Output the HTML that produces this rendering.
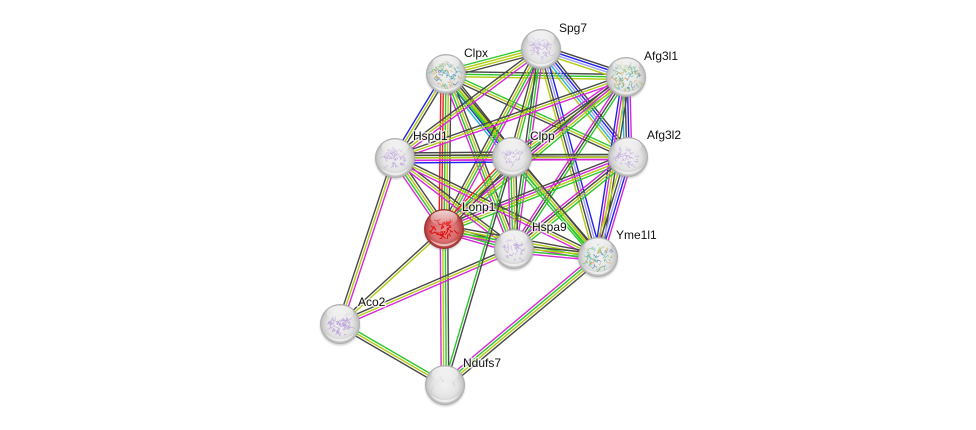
<!DOCTYPE html>
<html><head><meta charset="utf-8">
<style>
html,body{margin:0;padding:0;background:#fff;width:976px;height:430px;overflow:hidden}
svg{display:block}
text{font-family:"Liberation Sans",sans-serif;font-size:12px;fill:#111;paint-order:stroke;stroke:rgba(255,255,255,.7);stroke-width:3px;stroke-linejoin:round}
</style></head>
<body>
<svg id="s" xmlns="http://www.w3.org/2000/svg" width="976" height="430" viewBox="0 0 976 430">
<defs>
<radialGradient id="gb" cx="50%" cy="50%" r="52%"><stop offset="0" stop-color="#f2f2f2"/><stop offset=".6" stop-color="#e4e4e4"/><stop offset=".86" stop-color="#c8c8c8"/><stop offset="1" stop-color="#9a9a9a"/></radialGradient>
<radialGradient id="rb" cx="50%" cy="50%" r="52%"><stop offset="0" stop-color="#e88c8c"/><stop offset=".6" stop-color="#d87070"/><stop offset=".86" stop-color="#bb4444"/><stop offset="1" stop-color="#862020"/></radialGradient>
<linearGradient id="hl" x1="0" y1="0" x2="0" y2="1"><stop offset="0" stop-color="#fff" stop-opacity=".8"/><stop offset="1" stop-color="#fff" stop-opacity=".05"/></linearGradient>
<radialGradient id="sh" cx="50%" cy="50%" r="50%"><stop offset=".8" stop-color="#777" stop-opacity=".55"/><stop offset="1" stop-color="#999" stop-opacity="0"/></radialGradient>
</defs>
<g id="edges" fill="none"></g>
<g id="nodes"></g>
<text x="559" y="32">Spg7</text>
<text x="464" y="57">Clpx</text>
<text x="644" y="60">Afg3l1</text>
<text x="413" y="140">Hspd1</text>
<text x="530" y="140">Clpp</text>
<text x="647" y="139">Afg3l2</text>
<text x="462" y="211">Lonp1</text>
<text x="532" y="231">Hspa9</text>
<text x="616" y="239">Yme1l1</text>
<text x="358" y="306">Aco2</text>
<text x="463" y="367">Ndufs7</text>
</svg>
<script>
var N={S:[541,49],X:[446,74],A:[626,77],H:[395,158],C:[512,157],B:[628,157],L:[444,229],P:[514,249],Y:[598,257],O:[340,324],D:[445,385]};
var K={k:'#484848',y:'#b4cc14',g:'#2cc82c',G:'#108c10',m:'#d828d8',b:'#2222ee',l:'#a0a0ff',c:'#28b4d8',r:'#f02020',p:'#802080'};
var E='XS:gyyk XA:kgy XH:kyb XC:kygbc XB:gyk XL:kygrr XP:kygm XY:kyg SA:kbly SB:kblcy SH:myk SC:gyk SL:mgyk SP:mgk SY:blky AB:mbkc AH:myk AC:gykm AL:gymk AP:gkm AY:kymb HC:kyGmb CB:Gkp HB:kym BL:gymk BP:gykm BY:mblky HL:kygm HP:kym HY:kym HO:myk CL:kygr CP:kygm CY:kygg LP:kygm LY:kygm LO:yk LD:kgym PY:kygm PO:myk CD:kg YD:kygm OD:gyk'.split(' ');
var ns='http://www.w3.org/2000/svg',eg=document.getElementById('edges'),ng=document.getElementById('nodes');
function el(t,a,p){var e=document.createElementNS(ns,t);for(var k in a)e.setAttribute(k,a[k]);p.appendChild(e);return e}
E.forEach(function(e){var a=N[e[0]],b=N[e[1]],c=e.slice(3),dx=b[0]-a[0],dy=b[1]-a[1],l=Math.hypot(dx,dy),nx=-dy/l,ny=dx/l,sp=2.5;
for(var i=0;i<c.length;i++){var o=(i-(c.length-1)/2)*sp;
el('line',{x1:a[0]+nx*o,y1:a[1]+ny*o,x2:b[0]+nx*o,y2:b[1]+ny*o,stroke:K[c[i]],'stroke-width':1.4},eg)}});
var seed=7;function R(){seed=(seed*16807)%2147483647;return seed/2147483647}
var M=['#e8a060','#70b070','#5080c8','#60b8c0','#a0c060','#70b070'];
var Z={S:[['#c4aee0'],10,130],X:[M,13,220],A:[M,14,240],H:[['#c0a8dc'],11,130],C:[['#c4b0e0'],9,80],B:[['#c0a8dc'],11,100],L:[['#e01010'],11,90],P:[['#c0a8dc'],12,110],Y:[M,13,190],O:[['#b89cd8'],11,170],D:[['#d0bce0'],13,8]};
for(var k in N){var p=N[k],x=p[0],y=p[1],z=Z[k],red=k=='L';
el('circle',{cx:x,cy:y+1.5,r:21.5,fill:'url(#sh)'},ng);
el('circle',{cx:x,cy:y,r:20,fill:red?'url(#rb)':'url(#gb)'},ng);
for(var j=0;j<z[2];j+=3){var a=R()*6.28,r=Math.sqrt(R())*z[1],px=x+Math.cos(a)*r,py=y+Math.sin(a)*r,d='M'+px.toFixed(1)+' '+py.toFixed(1);
for(var q=0;q<3;q++){px+=(R()-.5)*5;py+=(R()-.5)*5;d+='L'+px.toFixed(1)+' '+py.toFixed(1)}
el('path',{d:d,fill:'none',stroke:z[0][Math.floor(R()*z[0].length)],'stroke-width':red?1:.65,opacity:red?1:.8},ng)}
el('ellipse',{cx:x,cy:y-11,rx:13.5,ry:7.5,fill:'url(#hl)'},ng);
el('path',{d:'M'+(x-14)+' '+(y+10)+'A17 17 0 0 0 '+(x+14)+' '+(y+10)+'A22 22 0 0 1 '+(x-14)+' '+(y+10)+'Z',fill:'#fff',opacity:.6},ng);
}
</script>
</body></html>
